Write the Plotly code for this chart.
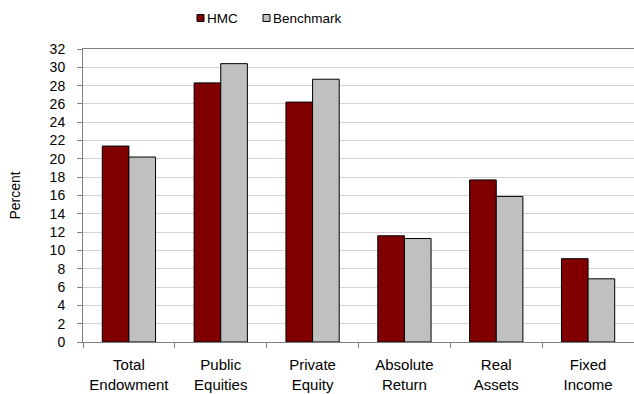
import plotly.graph_objects as go

categories = ["Total<br>Endowment", "Public<br>Equities", "Private<br>Equity",
              "Absolute<br>Return", "Real<br>Assets", "Fixed<br>Income"]
hmc = [21.4, 28.3, 26.2, 11.6, 17.7, 9.1]
benchmark = [20.2, 30.4, 28.7, 11.3, 15.9, 6.9]
y_ticks = list(range(0, 33, 2))
series_names = ["HMC", "Benchmark"]
series_colors = ["#800000", "#c0c0c0"]

FONT = "Liberation Sans, Arial, sans-serif"

# plot area in pixels (for legend placement in paper coords)
L, R, T, B = 83, 634, 49, 342
def px(X):
    return (X - L) / (R - L)
def py(Y):
    return (B - Y) / (B - T)

fig = go.Figure()
for name, vals, col in zip(series_names, [hmc, benchmark], series_colors):
    fig.add_trace(go.Bar(name=name, x=categories, y=vals, showlegend=False,
                         marker=dict(color=col, line=dict(color="#000000", width=1))))

# legend keys (drawn at top, Excel-style small squares)
legend_x = [197, 263]
for name, col, x0 in zip(series_names, series_colors, legend_x):
    fig.add_shape(type="rect", xref="paper", yref="paper",
                  x0=px(x0), x1=px(x0 + 7), y0=py(21.5), y1=py(14.5),
                  fillcolor=col, line=dict(color="#000000", width=1))
    fig.add_annotation(xref="paper", yref="paper", x=px(x0 + 8), y=py(18.5),
                       text=name, showarrow=False, xanchor="left", yanchor="middle",
                       font=dict(size=13.5, color="#000000"))

fig.update_layout(
    width=634, height=394,
    margin=dict(l=L, r=634 - R, t=T, b=394 - B),
    paper_bgcolor="white", plot_bgcolor="white",
    font=dict(family=FONT, size=14, color="#000000"),
    barmode="group", bargap=0.42, bargroupgap=0,
    showlegend=False,
)
fig.update_xaxes(showline=True, mirror=True, linecolor="#808080", linewidth=1,
                 ticks="outside", tickson="boundaries", ticklen=5, tickcolor="#808080",
                 showgrid=False, tickfont=dict(size=15), ticklabelstandoff=9)
fig.update_yaxes(range=[0, 32], tickvals=y_ticks, showline=True, linecolor="#808080",
                 linewidth=1, ticks="outside", ticklen=5, tickcolor="#808080",
                 showgrid=True, gridcolor="#d4d4d4", gridwidth=1.3,
                 zeroline=False, ticklabelstandoff=9,
                 title=dict(text="Percent", font=dict(size=14), standoff=25),
                 tickfont=dict(size=14))

fig.write_html("out.html")
